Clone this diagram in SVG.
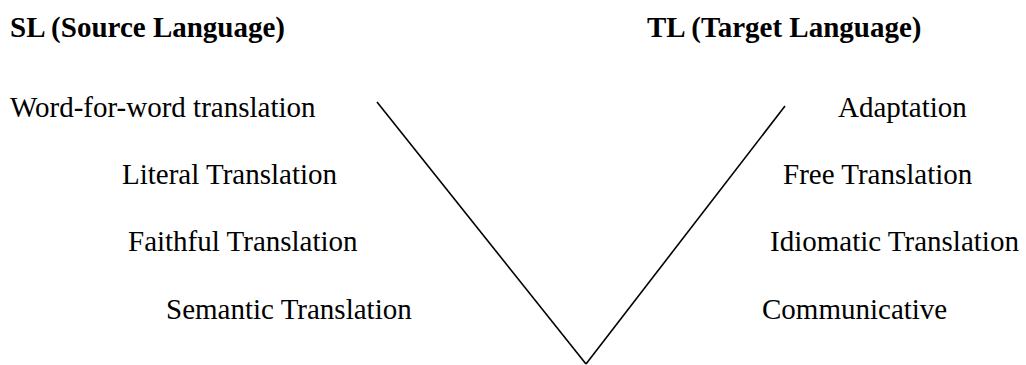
<svg xmlns="http://www.w3.org/2000/svg" width="1026" height="365" viewBox="0 0 1026 365">
<style>
text{font-family:"Liberation Serif","Times New Roman",serif;font-size:29px;fill:#000}
.h{font-weight:bold}
.ln{stroke:#000;stroke-width:1.6;fill:none}
</style>
<rect width="1026" height="365" fill="#fff"/>
<g id="sl-title"><text class="h" x="10" y="37">SL (Source Language)</text></g>
<g id="tl-title"><text class="h" x="647" y="37">TL (Target Language)</text></g>
<g id="word-for-word"><text x="10" y="117">Word-for-word translation</text></g>
<g id="literal"><text x="122" y="184">Literal Translation</text></g>
<g id="faithful"><text x="128" y="251">Faithful Translation</text></g>
<g id="semantic"><text x="166" y="319">Semantic Translation</text></g>
<g id="adaptation"><text x="838" y="117">Adaptation</text></g>
<g id="free"><text x="783" y="184">Free Translation</text></g>
<g id="idiomatic"><text x="770" y="251">Idiomatic Translation</text></g>
<g id="communicative"><text x="762" y="319">Communicative</text></g>
<g id="connectors">
<line class="ln" x1="377" y1="102" x2="586" y2="364"/>
<line class="ln" x1="785" y1="106" x2="586" y2="364"/>
</g>
</svg>
